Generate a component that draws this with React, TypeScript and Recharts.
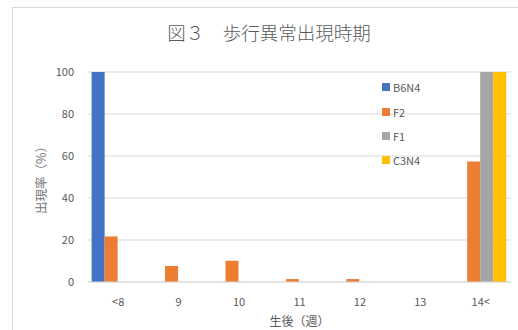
import { Bar, BarChart, CartesianGrid, XAxis, YAxis } from "recharts";

const weeks = ["<8", "9", "10", "11", "12", "13", "14<"];
const b6n4 = [100, 0, 0, 0, 0, 0, 0];
const f2 = [21.7, 7.6, 10.1, 1.4, 1.4, 0, 57.4];
const f1 = [0, 0, 0, 0, 0, 0, 100];
const c3n4 = [0, 0, 0, 0, 0, 0, 100];
const yTicks = [0, 20, 40, 60, 80, 100];

const series = [
  { key: "B6N4", color: "#4472C4" },
  { key: "F2", color: "#ED7D31" },
  { key: "F1", color: "#A5A5A5" },
  { key: "C3N4", color: "#FFC000" },
];

const data = weeks.map((w, i) => ({
  week: w,
  B6N4: b6n4[i],
  F2: f2[i],
  F1: f1[i],
  C3N4: c3n4[i],
}));

const font = "'Noto Sans CJK JP', 'Noto Sans', sans-serif";
const textColor = "#595959";

function LegendBox() {
  return (
    <div style={{ position: "absolute", left: 382, top: 75 }}>
      {series.map((s) => (
        <div key={s.key} style={{ display: "flex", alignItems: "center", height: 24.4 }}>
          <span style={{ width: 8, height: 8, background: s.color, marginRight: 3 }} />
          <span style={{ fontSize: 11, color: textColor, fontFamily: font }}>{s.key}</span>
        </div>
      ))}
    </div>
  );
}

export default function App() {
  return (
    <div
      style={{
        position: "absolute",
        left: 0,
        top: 0,
        width: 518,
        height: 330,
        overflow: "hidden",
        background: "#fff",
        fontFamily: font,
      }}
    >
      <div
        style={{
          position: "absolute",
          left: 12,
          top: 7,
          width: 530,
          height: 340,
          border: "1px solid #d9d9d9",
        }}
      />
      <div
        style={{
          position: "absolute",
          left: 0,
          width: 538,
          top: 19,
          textAlign: "center",
          fontSize: 18.5,
          fontWeight: 300,
          color: textColor,
        }}
      >
        図３　歩行異常出現時期
      </div>
      <div style={{ position: "absolute", left: 0, top: 0 }}>
        <BarChart
          width={518}
          height={330}
          data={data}
          margin={{ top: 72, right: 7, left: 48, bottom: 18 }}
          barCategoryGap="6%"
          barGap={0}
        >
          <CartesianGrid stroke="#d9d9d9" vertical={false} />
          <XAxis
            dataKey="week"
            height={30}
            tickLine={false}
            axisLine={{ stroke: "#d9d9d9" }}
            tick={{ fill: textColor, fontSize: 11, fontFamily: font }}
            tickMargin={10}
            label={{
              value: "生後（週）",
              position: "insideBottom",
              offset: -14,
              fill: textColor,
              fontSize: 12,
              fontFamily: font,
            }}
          />
          <YAxis
            width={40}
            domain={[0, 100]}
            ticks={yTicks}
            tickLine={false}
            axisLine={false}
            tick={{ fill: textColor, fontSize: 11, fontFamily: font }}
            tickMargin={8}
            label={{
              value: "出現率（%）",
              angle: -90,
              position: "insideLeft",
              offset: -6,
              textAnchor: "middle",
              fill: "#767676",
              fontSize: 12.5,
              fontFamily: font,
            }}
          />
          {series.map((s) => (
            <Bar key={s.key} dataKey={s.key} fill={s.color} isAnimationActive={false} />
          ))}
        </BarChart>
      </div>
      <LegendBox />
    </div>
  );
}
